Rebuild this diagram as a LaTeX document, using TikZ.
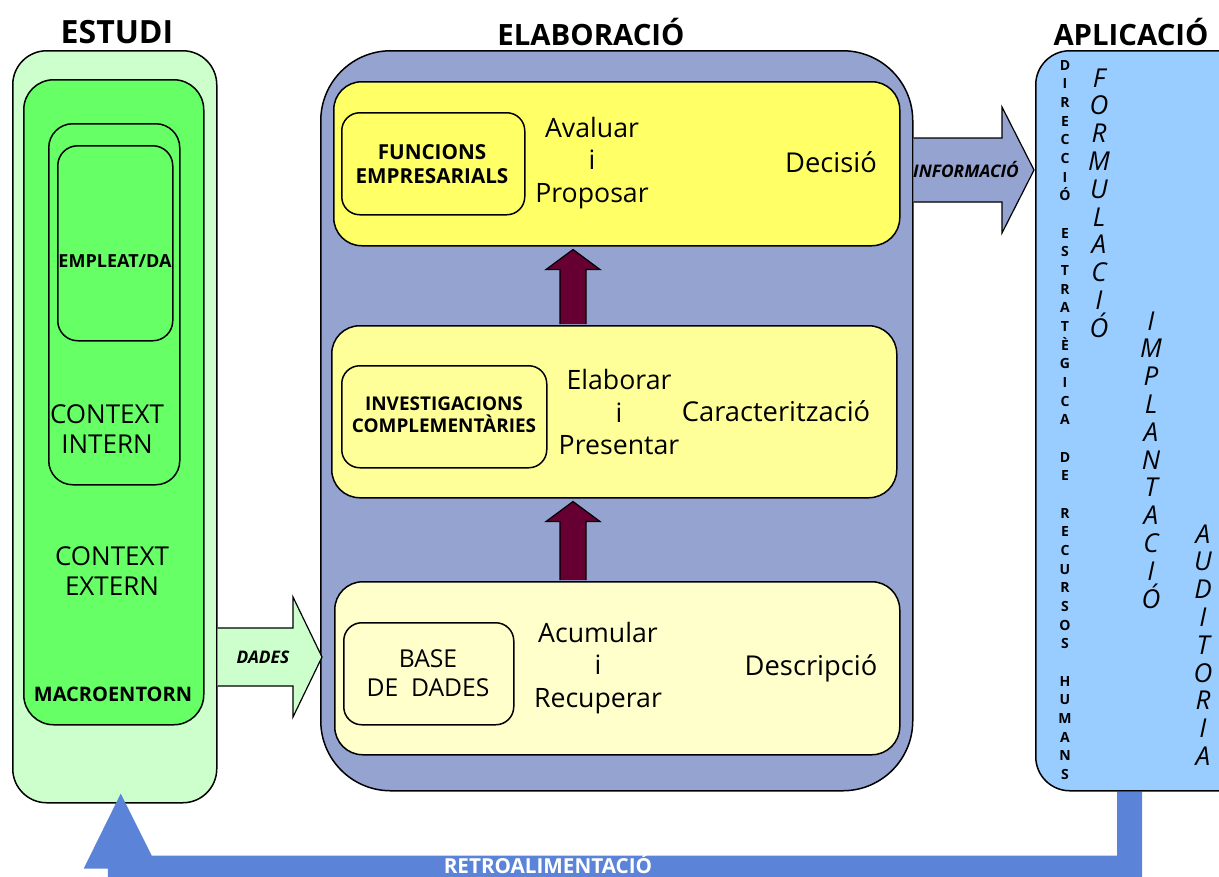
\documentclass[tikz,border=0pt]{standalone}
\usepackage{fontspec}
\setmainfont{Open Sans}
\usetikzlibrary{calc}

% one drawing unit = one pixel of a 96 dpi canvas
\newdimen\pxu \pxu=0.75pt

\definecolor{paleGreen}{HTML}{CCFFCC}
\definecolor{brightGreen}{HTML}{66FF66}
\definecolor{slateBlue}{HTML}{95A3D0}
\definecolor{yellowA}{HTML}{FFFF66}
\definecolor{yellowB}{HTML}{FFFF99}
\definecolor{yellowC}{HTML}{FFFFCC}
\definecolor{darkMaroon}{HTML}{660033}
\definecolor{skyBlue}{HTML}{99CCFF}
\definecolor{loopBlue}{HTML}{5B84D8}

\tikzset{
  panel/.style={rectangle, draw=black, line width=1.5\pxu, anchor=north west, inner sep=0pt},
  heading/.style={font=\bfseries\fontsize{22}{25}\selectfont},
  verb/.style={align=center, font=\fontsize{20}{24.5}\selectfont},
  result/.style={font=\fontsize{20.5}{24}\selectfont},
  tag/.style={align=center, font=\bfseries\fontsize{15.5}{18.5}\selectfont},
  flowtext/.style={font=\bfseries\itshape\fontsize{13}{15}\selectfont},
  bigarrow/.style={draw=black, line width=1.2\pxu, line join=miter},
  stack/.style={align=center, inner sep=0pt},
  stackbig/.style={stack, font=\itshape\fontsize{19.5}{20.85}\selectfont},
}

\begin{document}
\begin{tikzpicture}[x=1\pxu, y=-1\pxu]
\useasboundingbox (0,0) rectangle (1219,876);
\fill[white] (0,0) rectangle (1219,876);
\clip (0,0) rectangle (1219,876);

% ---------- column headings ----------
\node[heading, font=\bfseries\fontsize{24}{27}\selectfont] (hEstudi) at (117,32) {ESTUDI};
\node[heading] (hElab) at (591,32) {ELABORACIÓ};
\node[heading] (hAplic) at (1131,32) {APLICACIÓ};

% ---------- ESTUDI: nested environments ----------
\node[panel, fill=paleGreen, rounded corners=34\pxu, minimum width=204\pxu, minimum height=752\pxu] (estudi) at (12,50) {};
\node[panel, fill=brightGreen, rounded corners=30\pxu, minimum width=180\pxu, minimum height=645\pxu] (macro) at (23,79) {};
\node[panel, fill=brightGreen, rounded corners=24\pxu, minimum width=131\pxu, minimum height=361\pxu] (intern) at (48,123) {};
\node[panel, fill=brightGreen, rounded corners=20\pxu, minimum width=115\pxu, minimum height=195\pxu] (empleat) at (57,145) {};

\node[font=\bfseries\fontsize{13.5}{15}\selectfont, inner sep=0pt] (tEmpleat) at (115,261) {EMPLEAT/DA};
\node[align=center, font=\fontsize{19.5}{22}\selectfont] (tIntern) at (107,429) {CONTEXT\\INTERN};
\node[align=center, font=\fontsize{19.5}{22}\selectfont] (tExtern) at (112,571) {CONTEXT\\EXTERN};
\node[font=\bfseries\fontsize{15}{18}\selectfont] (tMacro) at (113,694) {MACROENTORN};

% ---------- feedback loop (behind the panels) ----------
\node[panel, rounded corners=34\pxu, minimum width=230\pxu, minimum height=740\pxu, draw=none] (aplicGhost) at (1035,50) {};
\coordinate (fbStart) at ($(aplicGhost.south west)+(82,0)$);
\coordinate (fbTip) at ($(estudi.south)+(6,-10)$);
\fill[loopBlue] (fbStart) -- ($(fbStart)+(0,64)$) -- ($(fbTip)+(31,62)$) -- (fbTip)
  -- ($(fbTip)+(-37,75)$) -- ($(fbTip)+(-13,75)$) -- ($(fbTip)+(-13,100)$)
  -- ($(fbStart)+(25,100)$) -- ($(fbStart)+(25,0)$) -- cycle;
\node[text=white, anchor=base, inner sep=0pt, font=\bfseries\fontsize{15.5}{18}\selectfont] (tRetro) at (548,873) {RETROALIMENTACIÓ};

% ---------- ELABORACIÓ ----------
\node[panel, fill=slateBlue, rounded corners=70\pxu, minimum width=592\pxu, minimum height=740\pxu] (elab) at (320,50) {};
\node[panel, fill=yellowA, rounded corners=28\pxu, minimum width=566\pxu, minimum height=164\pxu] (top) at (333,81) {};
\node[panel, fill=yellowB, rounded corners=28\pxu, minimum width=565\pxu, minimum height=172\pxu] (mid) at (331,325) {};
\node[panel, fill=yellowC, rounded corners=28\pxu, minimum width=565\pxu, minimum height=173\pxu] (bot) at (334,581) {};

\node[panel, rounded corners=18\pxu, minimum width=183\pxu, minimum height=102\pxu] (funcions) at (341,112) {};
\node[panel, rounded corners=18\pxu, minimum width=205\pxu, minimum height=102\pxu] (investig) at (341,365) {};
\node[panel, rounded corners=18\pxu, minimum width=170\pxu, minimum height=102\pxu] (basedades) at (343,622) {};

\node[tag] (tFuncions) at (432,164) {FUNCIONS\\EMPRESARIALS};
\node[tag, font=\bfseries\fontsize{14.2}{16.5}\selectfont] (tInvestig) at (444,415) {INVESTIGACIONS\\COMPLEMENTÀRIES};
\node[align=center, font=\fontsize{18.5}{22}\selectfont] (tBase) at (428,673) {BASE\\DE~~DADES};

\node[verb] (vAvaluar) at (592,163) {Avaluar\\i\\Proposar};
\node[result] (rDecisio) at (831,162) {Decisió};
\node[verb] (vElaborar) at (619,412) {Elaborar\\i\\Presentar};
\node[result] (rCaract) at (776,411) {Caracterització};
\node[verb] (vAcumular) at (598,668) {Acumular\\i\\Recuperar};
\node[result] (rDescr) at (811,668) {Descripció};

% ---------- upward flow between levels ----------
\coordinate (axis) at (573,0);
\foreach \lo/\hi in {mid/top, bot/mid}{
  \fill[darkMaroon, draw=black, line width=1.2\pxu]
    ($(axis |- \lo.north)+(-13,-1)$) -- ($(axis |- \hi.south)+(-13,23)$)
    -- ($(axis |- \hi.south)+(-27,23)$) -- ($(axis |- \hi.south)+(0,3)$)
    -- ($(axis |- \hi.south)+(27,23)$) -- ($(axis |- \hi.south)+(13,23)$)
    -- ($(axis |- \lo.north)+(13,-1)$);
}

% ---------- DADES: ESTUDI -> ELABORACIÓ ----------
\coordinate (dA) at (estudi.east |- 0,657);
\coordinate (dB) at (elab.west |- 0,657);
\filldraw[bigarrow, fill=paleGreen]
  ($(dA)+(0,-29)$) -- ($(dB)+(-27,-29)$) -- ($(dB)+(-27,-60)$) -- ($(dB)+(2,0)$)
  -- ($(dB)+(-27,60)$) -- ($(dB)+(-27,29)$) -- ($(dA)+(0,29)$);
\node[flowtext] (tDades) at (263,657) {DADES};

% ---------- INFORMACIÓ: ELABORACIÓ -> APLICACIÓ ----------
\node[panel, fill=skyBlue, rounded corners=34\pxu, minimum width=230\pxu, minimum height=740\pxu] (aplic) at (1035,50) {};
\coordinate (iA) at (elab.east |- 0,170);
\coordinate (iB) at (aplic.west |- 0,170);
\filldraw[bigarrow, fill=slateBlue]
  ($(iA)+(0,-32)$) -- ($(iB)+(-33,-32)$) -- ($(iB)+(-33,-63)$) -- ($(iB)+(-1,0)$)
  -- ($(iB)+(-33,63)$) -- ($(iB)+(-33,32)$) -- ($(iA)+(0,32)$);
\node[flowtext] (tInfo) at (966,170) {INFORMACIÓ};

% ---------- APLICACIÓ: vertical labels ----------
\node[stack, font=\bfseries\fontsize{10.5}{14}\selectfont] (tDir) at (1065,420)
  {D\\I\\R\\E\\C\\C\\I\\Ó\\\mbox{}\\E\\S\\T\\R\\A\\T\\È\\G\\I\\C\\A\\\mbox{}\\D\\E\\\mbox{}\\R\\E\\C\\U\\R\\S\\O\\S\\\mbox{}\\H\\U\\M\\A\\N\\S};
\node[stackbig] (tForm) at (1099,203) {F\\O\\R\\M\\U\\L\\A\\C\\I\\Ó};
\node[stackbig] (tImpl) at (1151,460) {I\\M\\P\\L\\A\\N\\T\\A\\C\\I\\Ó};
\node[stackbig] (tAudit) at (1203,645) {A\\U\\D\\I\\T\\O\\R\\I\\A};
\end{tikzpicture}
\end{document}
